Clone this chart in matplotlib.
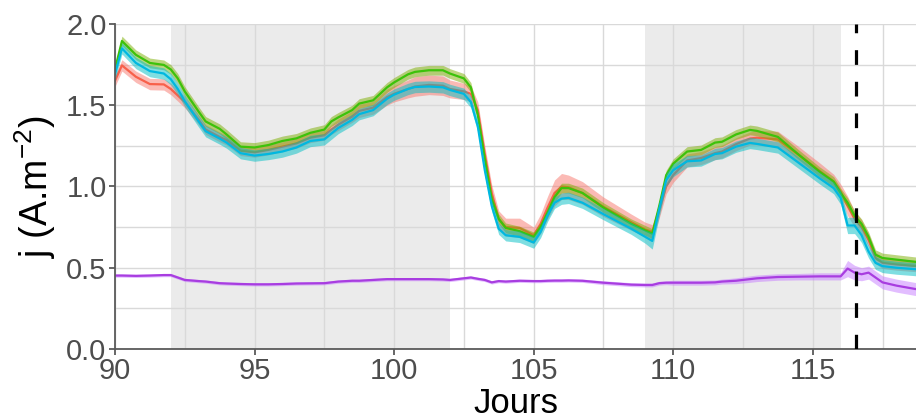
import matplotlib
matplotlib.use("Agg")
import matplotlib.pyplot as plt
import numpy as np

plt.rcParams['font.family'] = ['Liberation Sans', 'DejaVu Sans']
plt.rcParams['mathtext.default'] = 'regular'

# days (x knots)
jours = [90.0, 90.25, 90.75, 91.25, 91.75, 92.0, 92.25, 92.5, 93.0, 93.25, 93.75, 94.0,
         94.5, 95.0, 95.5, 96.0, 96.5, 97.0, 97.5, 97.75, 98.0, 98.5, 98.75, 99.25,
         99.75, 100.0, 100.5, 100.75, 101.25, 101.75, 102.0, 102.5, 102.75, 103.0,
         103.25, 103.5, 103.75, 104.0, 104.5, 105.0, 105.25, 105.5, 105.75, 106.0,
         106.25, 106.75, 107.5, 108.5, 109.0, 109.25, 109.5, 109.75, 110.0, 110.5,
         111.0, 111.5, 111.75, 112.25, 112.75, 113.0, 113.75, 114.5, 115.25, 115.75,
         116.0, 116.25, 116.5, 116.75, 117.0, 117.25, 117.5, 118.0, 118.75]

j_rouge = [1.65, 1.745, 1.675, 1.63, 1.628, 1.60, 1.56, 1.52, 1.41, 1.35, 1.305, 1.285,
           1.22, 1.21, 1.225, 1.245, 1.265, 1.30, 1.315, 1.35, 1.38, 1.43, 1.465, 1.485,
           1.55, 1.57, 1.60, 1.615, 1.625, 1.62, 1.60, 1.585, 1.57, 1.47,
           1.20, 0.96, 0.80, 0.75, 0.745, 0.70, 0.77, 0.87, 0.96, 1.00,
           0.995, 0.96, 0.875, 0.78, 0.735, 0.72, 0.85, 1.00, 1.07, 1.16,
           1.175, 1.205, 1.215, 1.26, 1.295, 1.30, 1.29, 1.195, 1.095, 1.03,
           0.97, 0.88, 0.80, 0.75, 0.67, 0.56, 0.53, 0.52, 0.51]
e_rouge = [0.035, 0.035, 0.035, 0.035, 0.035, 0.035, 0.035, 0.035, 0.03, 0.03, 0.03, 0.03,
           0.03, 0.03, 0.03, 0.03, 0.03, 0.03, 0.03, 0.03, 0.035, 0.035, 0.04, 0.04,
           0.05, 0.05, 0.055, 0.06, 0.06, 0.06, 0.055, 0.05, 0.05, 0.05,
           0.05, 0.05, 0.05, 0.055, 0.06, 0.05, 0.06, 0.07, 0.08, 0.08,
           0.075, 0.07, 0.06, 0.05, 0.045, 0.045, 0.045, 0.045, 0.045, 0.04,
           0.04, 0.04, 0.04, 0.04, 0.04, 0.045, 0.05, 0.05, 0.05, 0.045,
           0.045, 0.06, 0.05, 0.045, 0.04, 0.035, 0.035, 0.035, 0.035]

j_vert = [1.72, 1.895, 1.81, 1.76, 1.748, 1.72, 1.665, 1.585, 1.46, 1.40, 1.355, 1.32,
          1.245, 1.24, 1.255, 1.28, 1.296, 1.33, 1.35, 1.40, 1.425, 1.47, 1.51, 1.53,
          1.61, 1.64, 1.69, 1.705, 1.715, 1.715, 1.695, 1.665, 1.61, 1.44,
          1.17, 0.92, 0.80, 0.745, 0.725, 0.69, 0.75, 0.84, 0.935, 0.99,
          0.99, 0.96, 0.87, 0.77, 0.73, 0.71, 0.88, 1.07, 1.14, 1.215,
          1.225, 1.27, 1.275, 1.32, 1.348, 1.342, 1.305, 1.195, 1.09, 1.03,
          0.96, 0.90, 0.82, 0.77, 0.69, 0.58, 0.56, 0.55, 0.535]
e_vert = [0.03] * len(jours)

j_cyan = [1.69, 1.85, 1.76, 1.71, 1.695, 1.66, 1.60, 1.525, 1.40, 1.34, 1.295, 1.27,
          1.205, 1.19, 1.20, 1.215, 1.24, 1.28, 1.29, 1.325, 1.36, 1.41, 1.445, 1.47,
          1.54, 1.565, 1.60, 1.612, 1.615, 1.61, 1.594, 1.57, 1.52, 1.37,
          1.10, 0.88, 0.74, 0.70, 0.69, 0.655, 0.72, 0.82, 0.90, 0.925,
          0.93, 0.90, 0.83, 0.74, 0.69, 0.665, 0.86, 1.04, 1.10, 1.155,
          1.16, 1.20, 1.205, 1.245, 1.268, 1.262, 1.24, 1.145, 1.05, 0.99,
          0.93, 0.76, 0.76, 0.70, 0.60, 0.53, 0.51, 0.50, 0.49]
e_cyan = [0.035, 0.035, 0.035, 0.035, 0.035, 0.035, 0.035, 0.035, 0.035, 0.035, 0.035, 0.035,
          0.035, 0.035, 0.035, 0.035, 0.035, 0.035, 0.035, 0.035, 0.035, 0.035, 0.035, 0.035,
          0.035, 0.035, 0.035, 0.035, 0.035, 0.035, 0.035, 0.035, 0.035, 0.035,
          0.035, 0.035, 0.035, 0.035, 0.035, 0.035, 0.035, 0.035, 0.035, 0.035,
          0.035, 0.035, 0.035, 0.035, 0.04, 0.05, 0.045, 0.04, 0.04, 0.035,
          0.035, 0.035, 0.035, 0.035, 0.035, 0.035, 0.035, 0.035, 0.035, 0.035,
          0.04, 0.05, 0.05, 0.045, 0.04, 0.04, 0.04, 0.04, 0.04]

j_violet = [0.452, 0.452, 0.450, 0.452, 0.455, 0.455, 0.44, 0.425, 0.418, 0.415, 0.405, 0.403,
            0.40, 0.398, 0.398, 0.40, 0.403, 0.404, 0.405, 0.41, 0.415, 0.42, 0.42, 0.425,
            0.43, 0.43, 0.43, 0.43, 0.43, 0.428, 0.425, 0.435, 0.44, 0.432,
            0.425, 0.41, 0.418, 0.415, 0.42, 0.418, 0.418, 0.42, 0.421, 0.421,
            0.422, 0.42, 0.408, 0.396, 0.394, 0.394, 0.405, 0.408, 0.408, 0.408,
            0.408, 0.41, 0.415, 0.42, 0.43, 0.435, 0.443, 0.445, 0.447, 0.447,
            0.447, 0.495, 0.47, 0.46, 0.47, 0.44, 0.41, 0.39, 0.367]
e_violet = [0.01, 0.01, 0.01, 0.01, 0.01, 0.01, 0.01, 0.01, 0.01, 0.01, 0.01, 0.01,
            0.01, 0.01, 0.01, 0.01, 0.01, 0.01, 0.01, 0.01, 0.01, 0.01, 0.01, 0.01,
            0.01, 0.01, 0.01, 0.01, 0.01, 0.01, 0.01, 0.01, 0.01, 0.01,
            0.01, 0.01, 0.01, 0.01, 0.01, 0.01, 0.01, 0.01, 0.01, 0.01,
            0.01, 0.01, 0.012, 0.012, 0.012, 0.012, 0.012, 0.012, 0.015, 0.015,
            0.015, 0.015, 0.015, 0.018, 0.02, 0.02, 0.02, 0.02, 0.022, 0.022,
            0.022, 0.05, 0.045, 0.04, 0.04, 0.04, 0.04, 0.04, 0.04]

# nights / shaded periods and event
periodes = [(92, 102), (109, 116)]
evenement = 116.55

series = [
    (j_rouge, e_rouge, '#F8604A', '#F8766D'),
    (j_vert, e_vert, '#3CC20A', '#7CAE00'),
    (j_cyan, e_cyan, '#00B8E0', '#00BFC4'),
    (j_violet, e_violet, '#A83DE0', '#C77CFF'),
]

fig = plt.figure(figsize=(9.16, 4.2), dpi=100)
ax = fig.add_axes([0.1255, 0.169, 0.8745, 0.774])

for d0, d1 in periodes:
    ax.axvspan(d0, d1, color='#EBEBEB', lw=0, zorder=0.1)

x = np.array(jours)
for y, e, lc, fc in series:
    y = np.array(y)
    e = np.array(e)
    ax.fill_between(x, y - e, y + e, color=fc, alpha=0.5, lw=0, zorder=2)
    ax.plot(x, y, color=lc, lw=1.6, zorder=2)

ax.axvline(evenement, color='black', lw=2.3, dashes=(4.6, 5.3), zorder=3)

ax.set_xlim(90, 118.7)
ax.set_ylim(0, 2.0)
ax.set_xticks([90, 95, 100, 105, 110, 115])
ax.set_yticks([0.0, 0.5, 1.0, 1.5, 2.0])
ax.set_yticklabels(['0.0', '0.5', '1.0', '1.5', '2.0'])
ax.set_xticks(np.arange(92.5, 118.7, 5), minor=True)
ax.set_yticks([0.25, 0.75, 1.25, 1.75], minor=True)
ax.grid(True, which='both', color='#D9D9D9', lw=1.0)
ax.tick_params(which='major', labelsize=21, colors='#4D4D4D', length=4, width=1.2, pad=2)
ax.tick_params(which='minor', length=0)

for s in ['top', 'right']:
    ax.spines[s].set_visible(False)
for s in ['left', 'bottom']:
    ax.spines[s].set_color('#5A5A5A')
    ax.spines[s].set_linewidth(1.3)

ax.set_xlabel('Jours', fontsize=25, color='black', labelpad=1)
ax.set_ylabel('j (A.m$^{-2}$)', fontsize=27, color='black', labelpad=6)

fig.savefig('out.png', dpi=100)
